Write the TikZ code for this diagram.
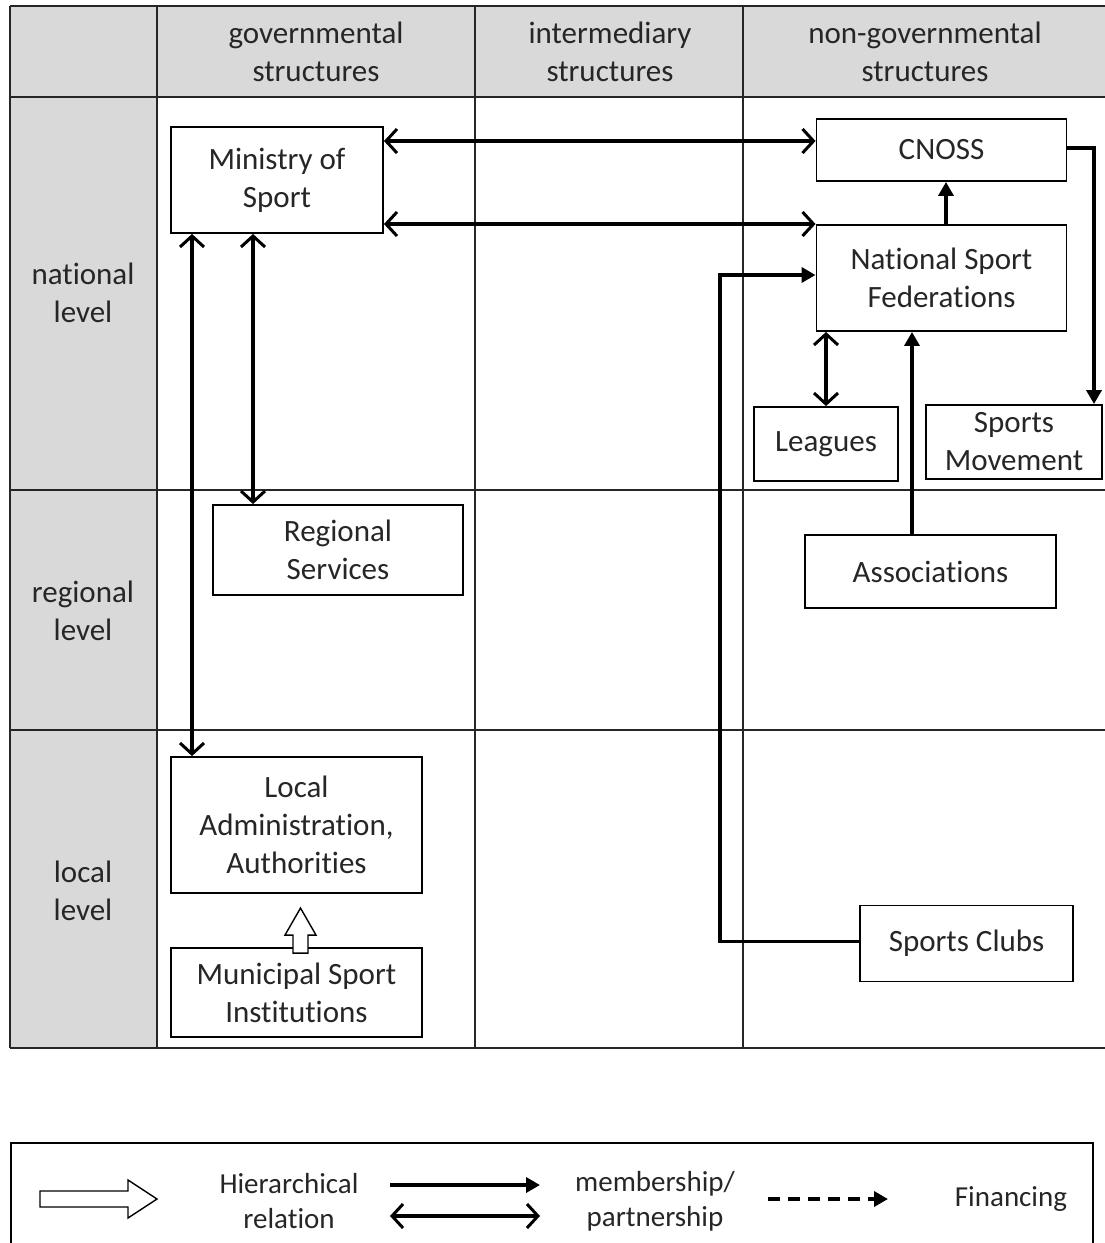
\documentclass[tikz,border=0pt]{standalone}
\usepackage{fontspec}
\setmainfont{Carlito}[Ligatures=NoCommon]
\usetikzlibrary{arrows.meta}
\definecolor{cellgray}{HTML}{D9D9D9}
\definecolor{inkgray}{HTML}{262626}
\begin{document}
\begin{tikzpicture}[x=1pt,y=-1pt,
  box/.style={draw=black, line width=1.9pt, fill=white, align=center, inner sep=0pt,
              text=inkgray, font=\fontsize{31}{38}\selectfont},
  lbl/.style={align=center, inner sep=0pt, text=inkgray, font=\fontsize{31}{38}\selectfont},
  leglbl/.style={align=center, inner sep=0pt, text=inkgray, font=\fontsize{29}{35}\selectfont},
  gridline/.style={line width=1.9pt, black!85},
  barb/.tip={Straight Barb[length=11pt,width=24pt,line width=3pt]},
  mem/.style={line width=3.6pt, barb-barb},
  oneway/.style={line width=3.6pt, -{Triangle[length=14pt,width=15pt]}},
  hollow/.style={line width=1.4pt, draw=black, fill=white, line join=miter},
  ]
\useasboundingbox (0,0) rectangle (1104,1243);

% shaded header row and level column
\fill[cellgray] (10,6) rectangle (1110,97);
\fill[cellgray] (10,97) rectangle (157,1048);

% table rules
\foreach \yy in {6,97,490,730,1048}
  \draw[gridline] (10,\yy) -- (1110,\yy);
\foreach \xx in {10,157,475,743}
  \draw[gridline] (\xx,6) -- (\xx,1048);

% column and row headings
\node[lbl] (hgov) at (316,52) {governmental\\structures};
\node[lbl] (hint) at (610,52) {intermediary\\structures};
\node[lbl] (hngo) at (925,52) {non-governmental\\structures};
\node[lbl] (lnat) at (83,293) {national\\level};
\node[lbl] (lreg) at (83,611) {regional\\level};
\node[lbl] (lloc) at (83,891) {local\\level};

% organisations
\node[box, minimum width=212pt, minimum height=106pt] (min) at (277,180) {Ministry of\\Sport};
\node[box, minimum width=250pt, minimum height=62pt] (cnoss) at (941.5,150) {CNOSS};
\node[box, minimum width=250pt, minimum height=106pt] (nsf) at (941.5,278) {National Sport\\Federations};
\node[box, minimum width=144pt, minimum height=74pt] (lea) at (826,444) {Leagues};
\node[box, minimum width=176pt, minimum height=74pt] (spm) at (1014,442) {Sports\\Movement};
\node[box, minimum width=250pt, minimum height=90pt] (reg) at (338,550) {Regional\\Services};
\node[box, minimum width=251pt, minimum height=73pt] (ass) at (930.5,571.5) {Associations};
\node[box, minimum width=251pt, minimum height=136pt] (loc) at (296.5,825) {Local\\Administration,\\Authorities};
\node[box, minimum width=251pt, minimum height=89pt] (mun) at (296.5,992.5) {Municipal Sport\\Institutions};
\node[box, minimum width=213pt, minimum height=76pt] (clu) at (966.5,943.5) {Sports Clubs};

% membership / partnership links
\coordinate (m1) at ([yshift=39pt]min.east);
\draw[mem] (m1) -- (m1 -| cnoss.west);
\coordinate (m2) at ([yshift=-44pt]min.east);
\draw[mem] (m2) -- (m2 -| nsf.west);
\coordinate (m3) at ([xshift=-85pt]min.south);
\draw[mem] (m3) -- (m3 |- loc.north);
\coordinate (m4) at ([xshift=-24pt]min.south);
\draw[mem] (m4) -- (m4 |- reg.north);
\draw[mem] (lea.north) -- (lea.north |- nsf.south);

% one-way membership links
\draw[oneway] ([xshift=4.5pt]nsf.north) -- ([xshift=4.5pt]cnoss.south);
\coordinate (c1) at ([yshift=2pt]cnoss.east);
\draw[oneway] (c1) -| ([xshift=80pt]spm.north);
\coordinate (a1) at ([xshift=-18.5pt]ass.north);
\draw[oneway] (a1) -- (a1 |- nsf.south);
\coordinate (k1) at ([yshift=2pt]clu.west);
\coordinate (k2) at ([yshift=3pt]nsf.west);
\draw[oneway] (k1) -- ++(-139,0) |- (k2);

% hierarchical relation
\coordinate (h0) at ([xshift=4pt,yshift=-6pt]mun.north);
\draw[hollow] (h0) ++(-7.5,0) -- ++(0,-18) -- ++(-8,0) -- ++(15.5,-27)
  -- ++(15.5,27) -- ++(-8,0) -- ++(0,18) -- cycle;

% legend
\draw[line width=2.4pt] (11,1250) -- (11,1143) -- (1093,1143) -- (1093,1250);
\coordinate (g0) at (40,1199);
\draw[hollow] (g0) ++(0,-8) -- ++(88,0) -- ++(0,-11) -- ++(29,19) -- ++(-29,19)
  -- ++(0,-11) -- ++(-88,0) -- cycle;
\node[leglbl] (ghier) at (289,1201) {Hierarchical\\relation};
\coordinate (g1) at (390,1185);
\coordinate (g2) at (540,1185);
\draw[oneway] (g1) -- (g2);
\coordinate (g3) at (390,1216);
\coordinate (g4) at (540,1216);
\draw[mem] (g3) -- (g4);
\node[leglbl] (gmem) at (655,1201) {membership/\\partnership};
\coordinate (g5) at (768,1199);
\coordinate (g6) at (888,1199);
\draw[oneway, dash pattern=on 12pt off 8pt] (g5) -- (g6);
\node[leglbl] (gfin) at (1011,1199) {Financing};
\end{tikzpicture}
\end{document}
